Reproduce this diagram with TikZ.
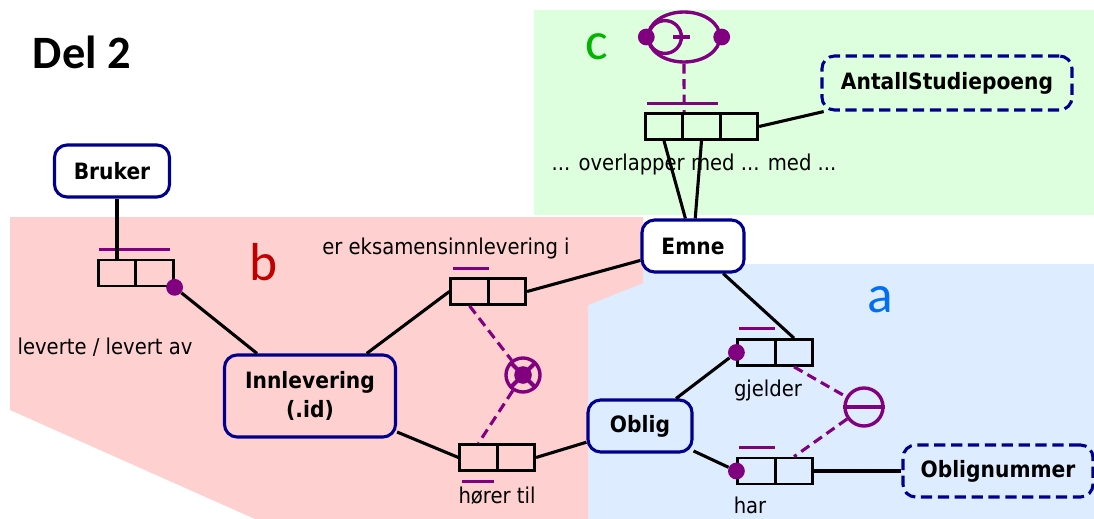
\documentclass[tikz,border=0pt]{standalone}
\usepackage{fontspec}
\setmainfont{DejaVu Sans Condensed}
\newfontfamily\delfont{Carlito}
\usetikzlibrary{positioning,shapes.geometric}
\definecolor{ormpurple}{RGB}{128,0,128}
\definecolor{ormblue}{RGB}{0,0,140}
\definecolor{bgpink}{RGB}{255,208,208}
\definecolor{bggreen}{RGB}{222,255,222}
\definecolor{bgblue}{RGB}{222,236,255}
\tikzset{
    entity/.style ={draw=ormblue, line width=2.2pt, rounded corners=9pt, minimum height=1.3cm,
                    align=center, font=\fontsize{16}{21}\selectfont\bfseries},
    valuetype/.style ={entity, dash pattern=on 8pt off 4pt},
    role/.style ={draw, line width=1.9pt, minimum width=0.9375cm, minimum height=0.65cm, inner sep=0pt},
    lbl/.style = {inner sep=0pt, font=\fontsize{15.5}{18}\selectfont},
    part/.style = {inner sep=0pt, font=\delfont\fontsize{38}{40}\selectfont},
    conn/.style = {line width=2.2pt},
    uc/.style = {ormpurple, line width=2.2pt},
    cons/.style = {ormpurple, line width=2.2pt, dash pattern=on 7pt off 4pt},
    mand/.style = {circle, fill=ormpurple, inner sep=0pt, minimum size=0.42cm}
}
\begin{document}
\begin{tikzpicture}[x=0.025cm, y=-0.025cm]
    \useasboundingbox (0,0) rectangle (1094,519);
    % parts a, b, c
    \fill[bgblue] (588,264) rectangle (1094,519);
    \fill[bggreen] (534,10) rectangle (1094,215);
    \fill[bgpink] (10,217) -- (643,217) -- (643,283) -- (588,305) -- (588,519) -- (255,519) -- (10,410) -- cycle;
    \node (del) at (82,52) [inner sep=0pt, font=\delfont\fontsize{33}{36}\selectfont\bfseries] {Del 2};
    \node (pa) at (880,300) [part, text={rgb,255:red,0;green,112;blue,240}] {a};
    \node (pb) at (264,262) [part, text={rgb,255:red,192;green,0;blue,0}] {b};
    \node (pc) at (597,47) [part, text={rgb,255:red,0;green,180;blue,0}] {c};

    % object types
    \node (bruker) at (112,171) [entity, minimum width=2.875cm] {Bruker};
    \node (inn) at (310,396) [entity, minimum width=4.275cm, minimum height=2.05cm] {Innlevering\\(.id)};
    \node (emne) at (693,246) [entity, fill=white, minimum width=2.55cm] {Emne};
    \node (oblig) at (640,426) [entity, minimum width=2.6cm] {Oblig};
    \node (poeng) at (947,83) [valuetype, minimum width=6.25cm, minimum height=1.35cm] {AntallStudiepoeng};
    \node (onr) at (998,471) [valuetype, minimum width=4.75cm] {Oblignummer};

    % fact types
    \node (lev1) at (117,273) [role] {};
    \node (lev2) at (154.5,273) [role] {};
    \node (ins1) at (469.5,291.5) [role] {};
    \node (ins2) at (507,291.5) [role] {};
    \node (hor1) at (478.5,457.5) [role] {};
    \node (hor2) at (516,457.5) [role] {};
    \node (gje1) at (756.5,352.5) [role] {};
    \node (gje2) at (794,352.5) [role] {};
    \node (har1) at (756.5,471) [role] {};
    \node (har2) at (794,471) [role] {};
    \node (ovl1) at (664,126.5) [role] {};
    \node (ovl2) at (701.5,126.5) [role] {};
    \node (ovl3) at (739,126.5) [role] {};

    \node (levtxt) at (105,347) [lbl] {leverte / levert av};
    \node (instxt) at (446,248) [lbl] {er eksamensinnlevering i};
    \node (hortxt) at (497,496) [lbl] {hører til};
    \node (gjetxt) at (768,390) [lbl] {gjelder};
    \node (hartxt) at (750,505) [lbl] {har};
    \node (ovltxt) at (694,164) [lbl] {... overlapper med ... med ...};

    % uniqueness
    \draw[uc] ([shift={(2,-9)}]lev1.north west) -- ([shift={(-5,-9)}]lev2.north east);
    \draw[uc] ([shift={(4,-9)}]ins1.north west) -- ([shift={(-1,-9)}]ins1.north east);
    \draw[uc] ([shift={(4,10)}]hor1.south west) -- ([shift={(-5,10)}]hor1.south east);
    \draw[uc] ([shift={(3,-10)}]gje1.north west) -- ([shift={(-2,-10)}]gje1.north east);
    \draw[uc] ([shift={(3,-9)}]har1.north west) -- ([shift={(-2,-9)}]har1.north east);
    \draw[uc] ([shift={(3,-9)}]ovl1.north west) -- ([shift={(-4,-9)}]ovl2.north east);

    % mandatory
    \node (m1) at (lev2.south east) [mand] {};
    \node (m2) at (gje1.west) [mand] {};
    \node (m3) at (har1.west) [mand] {};

    % roles
    \draw[conn] (bruker.south -| lev1.north) -- (lev1.north);
    \draw[conn] (m1) -- (inn);
    \draw[conn] (ins1.west) -- (inn);
    \draw[conn] (ins2.east) -- (emne);
    \draw[conn] (hor1.west) -- (inn);
    \draw[conn] (hor2.east) -- (oblig);
    \draw[conn] (m2) -- (oblig);
    \draw[conn] (gje2.north) -- (emne);
    \draw[conn] (m3) -- (oblig);
    \draw[conn] (har2.east) -- (onr);
    \draw[conn] (ovl1.south) -- (emne);
    \draw[conn] (ovl2.south) -- (emne);
    \draw[conn] (ovl3.east) -- (poeng);

    % constraints
    \node (xor) at (523,375) [circle, draw=ormpurple, line width=2.4pt, minimum size=0.85cm, inner sep=0pt] {};
    \draw[ormpurple, line width=3pt] (xor.north west) -- (xor.south east) (xor.north east) -- (xor.south west);
    \fill[ormpurple] (xor.center) circle (0.22cm);
    \draw[cons] (ins1.south) -- (xor);
    \draw[cons] (xor) -- (hor1.north);

    \node (excl) at (864,407) [circle, draw=ormpurple, line width=2.4pt, minimum size=0.95cm, inner sep=0pt] {};
    \draw[ormpurple, line width=2.4pt] (excl.west) -- (excl.east);
    \draw[cons] (gje2.south) -- (excl);
    \draw[cons] (excl) -- (har2.north);

    \node (ring) at (684,37) [ellipse, draw=ormpurple, line width=2.4pt, minimum width=1.8cm, minimum height=1.25cm, inner sep=0pt] {};
    \draw[ormpurple, line width=2.4pt] (665,37) circle (0.41cm);
    \draw[ormpurple, line width=2.4pt] (673,37) -- (690,37);
    \fill[ormpurple] (ring.west) circle (0.21cm) (ring.east) circle (0.21cm);
    \draw[cons] (ring.south) -- (ovl1.north east);
\end{tikzpicture}
\end{document}
